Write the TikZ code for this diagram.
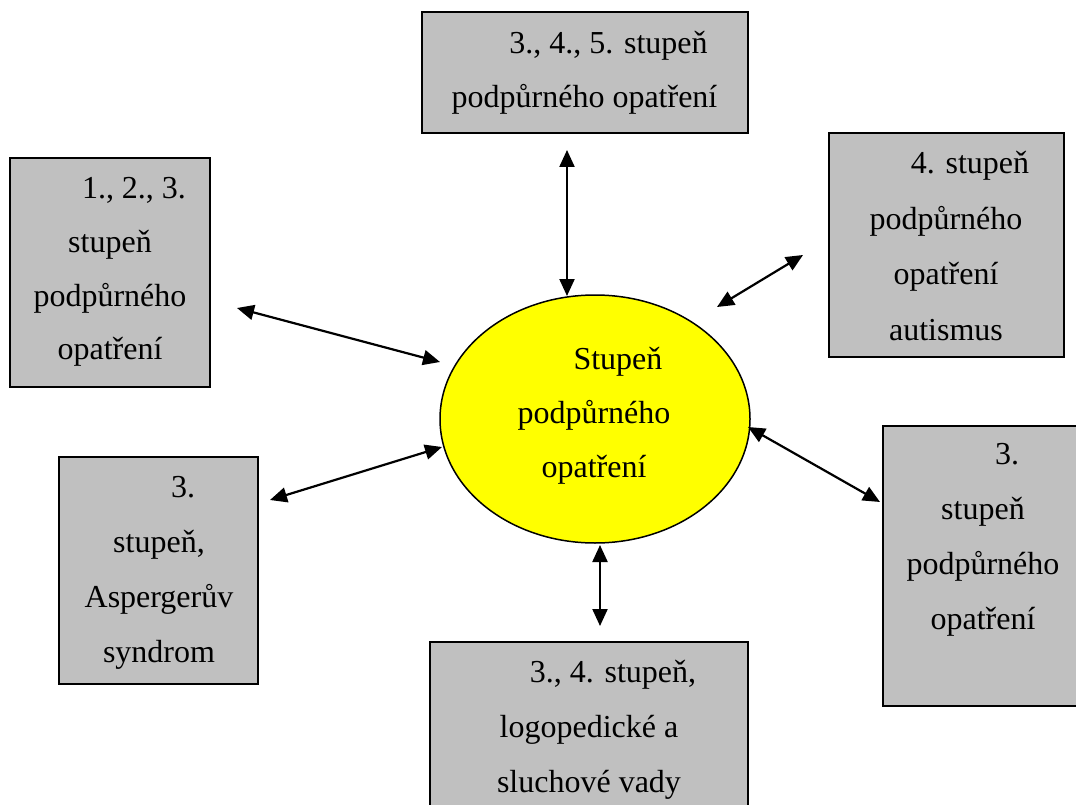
\documentclass[tikz,border=0pt]{standalone}
\usepackage{fontspec}
\setmainfont{Liberation Serif}
\usetikzlibrary{arrows.meta,shapes.geometric}

\definecolor{boxgray}{HTML}{C0C0C0}
\definecolor{hubyellow}{HTML}{FFFF00}

\newcommand{\firstindent}{\hspace*{48pt}}

\begin{document}
\begin{tikzpicture}[x=1pt, y=-1pt,
  box/.style={draw=black, line width=1.5pt, fill=boxgray, rectangle,
    inner sep=0pt, outer sep=0pt},
  hub/.style={draw=black, line width=1.5pt, fill=hubyellow, ellipse,
    inner sep=0pt, outer sep=0pt},
  label/.style={align=center, inner sep=0pt, outer sep=0pt, anchor=north,
    font=\fontsize{32}{55}\selectfont},
  dbl/.style={line width=2.2pt, {Triangle[length=17pt, width=15pt]}-{Triangle[length=17pt, width=15pt]}}
]
\useasboundingbox (0,0) rectangle (1076,805);
\clip (0,0) rectangle (1076,805);

% boxes (given by their corners)
\node[box, minimum width=326pt, minimum height=121pt] (btop) at (585,72.5) {};
\node[box, minimum width=200pt, minimum height=229pt] (bleft) at (110,272.5) {};
\node[box, minimum width=235pt, minimum height=224pt] (brt) at (946.5,245) {};
\node[box, minimum width=199pt, minimum height=227pt] (blb) at (158.5,570.5) {};
\node[box, minimum width=210pt, minimum height=280pt] (brb) at (988,566) {};
\node[box, minimum width=318pt, minimum height=188pt] (bbot) at (589,736) {};

% central ellipse
\node[hub, minimum width=310pt, minimum height=248pt] (ell) at (595,419) {};

% texts
\node[label, font=\fontsize{32}{54}\selectfont] (ttop) at (584.5,31.5)
  {\firstindent 3., 4., 5. stupeň\\podpůrného opatření};
\node[label, font=\fontsize{32}{53.7}\selectfont] (tleft) at (110,177.5)
  {\firstindent 1., 2., 3.\\stupeň\\podpůrného\\opatření};
\node[label, font=\fontsize{32}{55.6}\selectfont] (trt) at (946,151.5)
  {\firstindent 4. stupeň\\podpůrného\\opatření\\autismus};
\node[label] (tlb) at (159,476.5)
  {\firstindent 3.\\stupeň,\\Aspergerův\\syndrom};
\node[label] (trb) at (983,443.5)
  {\firstindent 3.\\stupeň\\podpůrného\\opatření};
\node[label] (tbot) at (589,660.5)
  {\firstindent 3., 4. stupeň,\\logopedické a\\sluchové vady};
\node[label, font=\fontsize{32}{54}\selectfont] (tell) at (594,347.5)
  {\firstindent Stupeň\\podpůrného\\opatření};

% connector end points
\coordinate (a1) at (567,150);
\coordinate (a1e) at (567,296);
\coordinate (a2s) at (717,307);
\coordinate (a2e) at (803,255);
\coordinate (a3s) at (237,308);
\coordinate (a3e) at (440,362);
\coordinate (a4s) at (270,500);
\coordinate (a4e) at (442,447);
\coordinate (a5s) at (748,427);
\coordinate (a5e) at (880,502);
\coordinate (a6s) at (600,545);
\coordinate (a6e) at (600,626);

% double-headed connectors
\draw[dbl] (a1) -- (a1e);
\draw[dbl] (a2s) -- (a2e);
\draw[dbl] (a3s) -- (a3e);
\draw[dbl] (a4s) -- (a4e);
\draw[dbl] (a5s) -- (a5e);
\draw[dbl] (a6s) -- (a6e);
\end{tikzpicture}
\end{document}
